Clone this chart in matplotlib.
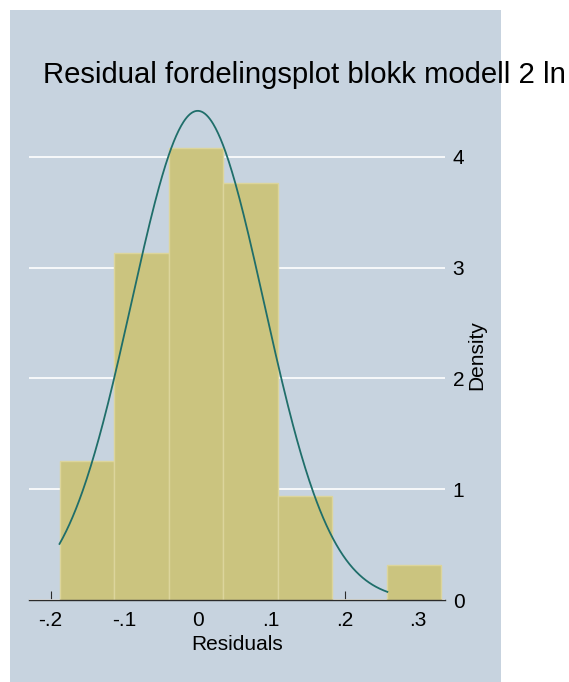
import numpy as np
import matplotlib
matplotlib.use('Agg')
import matplotlib.pyplot as plt
from matplotlib.patches import Rectangle

# ---- data ----
bin_edges = [-0.188, -0.1138, -0.0396, 0.0346, 0.1088, 0.183, 0.2572, 0.3314]
densities = [1.254, 3.134, 4.074, 3.761, 0.940, 0.0, 0.313]
resid_mean = 0.0
resid_sd = 0.0904
curve_range = [-0.188, 0.258]
x_ticks = [-0.2, -0.1, 0.0, 0.1, 0.2, 0.3]
x_tick_labels = ['-.2', '-.1', '0', '.1', '.2', '.3']
y_ticks = [0, 1, 2, 3, 4]
y_tick_labels = ['0', '1', '2', '3', '4']
title_text = 'Residual fordelingsplot blokk modell 2 ln'
xlabel_text = 'Residuals'
ylabel_text = 'Density'

plt.rcParams['font.family'] = ['Liberation Sans', 'DejaVu Sans']

BG = '#C7D3DF'
BAR = '#CBC47F'
BAR_EDGE = '#DCD59C'
CURVE = '#1F6E6A'
AXIS = '#2B2B2B'

W, H = 569, 682
fig = plt.figure(figsize=(W / 100, H / 100), dpi=100)
fig.patch.set_facecolor('white')
bg = Rectangle((10 / W, 0), (501 - 10) / W, (H - 10) / H,
               transform=fig.transFigure, facecolor=BG,
               edgecolor='none', zorder=-5)
fig.patches.append(bg)

ax = fig.add_axes([29 / W, (H - 600.2) / H, (445 - 29) / W, 499 / H])
ax.set_zorder(2)
ax.set_facecolor('none')
ax.set_xlim(-0.2295, 0.3364)
ax.set_ylim(0, 4.5)

lefts = bin_edges[:-1]
widths = np.diff(bin_edges)
ax.bar(lefts, densities, width=widths, align='edge', color=BAR,
       edgecolor=BAR_EDGE, linewidth=1.0, zorder=2)

xs = np.linspace(curve_range[0], curve_range[1], 400)
ys = np.exp(-0.5 * ((xs - resid_mean) / resid_sd) ** 2) / (resid_sd * np.sqrt(2 * np.pi))
ax.plot(xs, ys, color=CURVE, linewidth=1.3, zorder=3)

for s in ['top', 'left', 'right']:
    ax.spines[s].set_visible(False)
ax.spines['bottom'].set_color(AXIS)
ax.spines['bottom'].set_linewidth(1.0)
ax.spines['bottom'].set_zorder(4)

ax.set_xticks(x_ticks)
ax.set_xticklabels(x_tick_labels)
ax.tick_params(axis='x', direction='in', length=6.5, width=0.8, color=AXIS,
               labelsize=15, pad=8)
for t in ax.xaxis.get_major_ticks():
    t.tick1line.set_zorder(5)

ax.yaxis.tick_right()
ax.set_yticks(y_ticks)
ax.set_yticklabels(y_tick_labels)
ax.tick_params(axis='y', length=0, labelsize=15, pad=5.5)
ax.yaxis.grid(True, color='white', linewidth=1.2)
ax.set_axisbelow(True)

ax.set_xlabel(xlabel_text, fontsize=15, va='top')
ax.xaxis.set_label_coords(0.5, -0.069)
ax.yaxis.set_label_position('right')
ax.set_ylabel(ylabel_text, fontsize=15, rotation=90, va='center', ha='center')
ax.yaxis.set_label_coords(1.077, 0.491)

title = fig.text(43 / W, 1 - 82.7 / H, title_text, fontsize=27, ha='left',
                 va='baseline', color='black', fontstretch='condensed')
# fit the title's width to the reference span (43 px .. 564 px)
fig.canvas.draw()
r = fig.canvas.get_renderer()
wpx = title.get_window_extent(r).width
target = 521.0
if wpx > target:
    title.set_fontsize(27 * target / wpx)

fig.savefig('out.png', dpi=100)
